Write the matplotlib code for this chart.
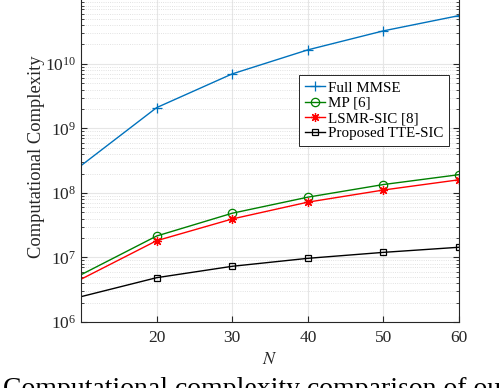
#!/usr/bin/env python
# coding: utf-8

import numpy as np
import matplotlib
matplotlib.use("Agg")
import matplotlib.pyplot as plt
from matplotlib.ticker import LogLocator, NullFormatter

# Data
n_values = [10, 20, 30, 40, 50, 60]
full_mmse = [2.65e8, 2.1e9, 7.0e9, 1.65e10, 3.25e10, 5.6e10]
mp = [5.4e6, 2.15e7, 4.85e7, 8.6e7, 1.35e8, 1.92e8]
lsmr_sic = [4.6e6, 1.82e7, 3.95e7, 7.2e7, 1.11e8, 1.6e8]
tte_sic = [2.47e6, 4.86e6, 7.3e6, 9.7e6, 1.2e7, 1.44e7]

labels = ["Full MMSE", "MP [6]", "LSMR-SIC [8]", "Proposed TTE-SIC"]
x_ticks = [20, 30, 40, 50, 60]
caption = "Computational complexity comparison of our proposed"

plt.rcParams['font.family'] = ['Liberation Serif', 'DejaVu Serif']
plt.rcParams['mathtext.fontset'] = 'stix'


def draw_complexity_plot(name_of_plot):
    fig = plt.figure(figsize=(5.02, 3.88), dpi=100)
    ax = fig.add_axes([0.1614, 0.1701, 0.753, 0.8505])

    # markers are not drawn at N=10 in the reference
    marks = range(1, len(n_values))
    ax.plot(n_values, full_mmse, color='#0072BD', lw=1.0, marker='+', ms=7,
            mew=0.9, markevery=marks, label=labels[0])
    ax.plot(n_values, mp, color='#008000', lw=1.0, marker='o', ms=6,
            mfc='none', mew=0.9, markevery=marks, label=labels[1])
    ax.plot(n_values, lsmr_sic, color='#FF0000', lw=1.0, marker=(8, 2, 0), ms=6.5,
            mew=0.9, markevery=marks, label=labels[2])
    ax.plot(n_values, tte_sic, color='black', lw=1.0, marker='s', ms=5,
            mfc='none', mew=0.9, markevery=marks, label=labels[3])

    ax.set_yscale('log')
    ax.set_xlim(10, 60)
    ax.set_ylim(1e6, 1.3e11)
    ax.set_xticks(x_ticks)
    ax.set_yticks([1e6, 1e7, 1e8, 1e9, 1e10])
    ax.yaxis.set_minor_locator(LogLocator(base=10, subs=np.arange(2, 10), numticks=20))
    ax.yaxis.set_minor_formatter(NullFormatter())

    ax.grid(True, which='major', color='#e6e6e6', lw=0.8, ls='-')
    ax.grid(True, which='minor', color='#d9d9d9', lw=0.6, ls=':')
    ax.set_axisbelow(True)

    ax.tick_params(which='both', direction='in', top=False, right=True,
                   colors='#262626', labelsize=12.5, labelcolor='#262626')
    ax.tick_params(which='major', length=4)
    ax.tick_params(which='minor', length=2)
    ax.tick_params(axis='x', pad=6)
    for side in ['left', 'bottom', 'right']:
        ax.spines[side].set_color('#262626')
        ax.spines[side].set_linewidth(0.8)
    ax.spines['top'].set_visible(False)

    ax.set_xlabel('$N$', fontsize=13, color='#262626', labelpad=3)
    ax.set_ylabel('Computational Complexity', fontsize=13.3, color='#262626', labelpad=0)

    leg = ax.legend(loc='upper right', bbox_to_anchor=(0.9735, 0.7485), fontsize=10.8,
                    frameon=True, fancybox=False, framealpha=1, edgecolor='#262626',
                    borderpad=0.4, labelspacing=0.12, handlelength=1.35,
                    handletextpad=0.15, borderaxespad=0)
    leg.get_frame().set_linewidth(0.7)

    # caption of the figure, cut by the lower edge like in the reference
    fig.text(3.0 / 502, 1 - 395.5 / 388, caption, fontsize=20, ha='left',
             va='baseline', color='black')

    plt.savefig(name_of_plot, dpi=100)


if __name__ == '__main__':
    draw_complexity_plot("out.png")
